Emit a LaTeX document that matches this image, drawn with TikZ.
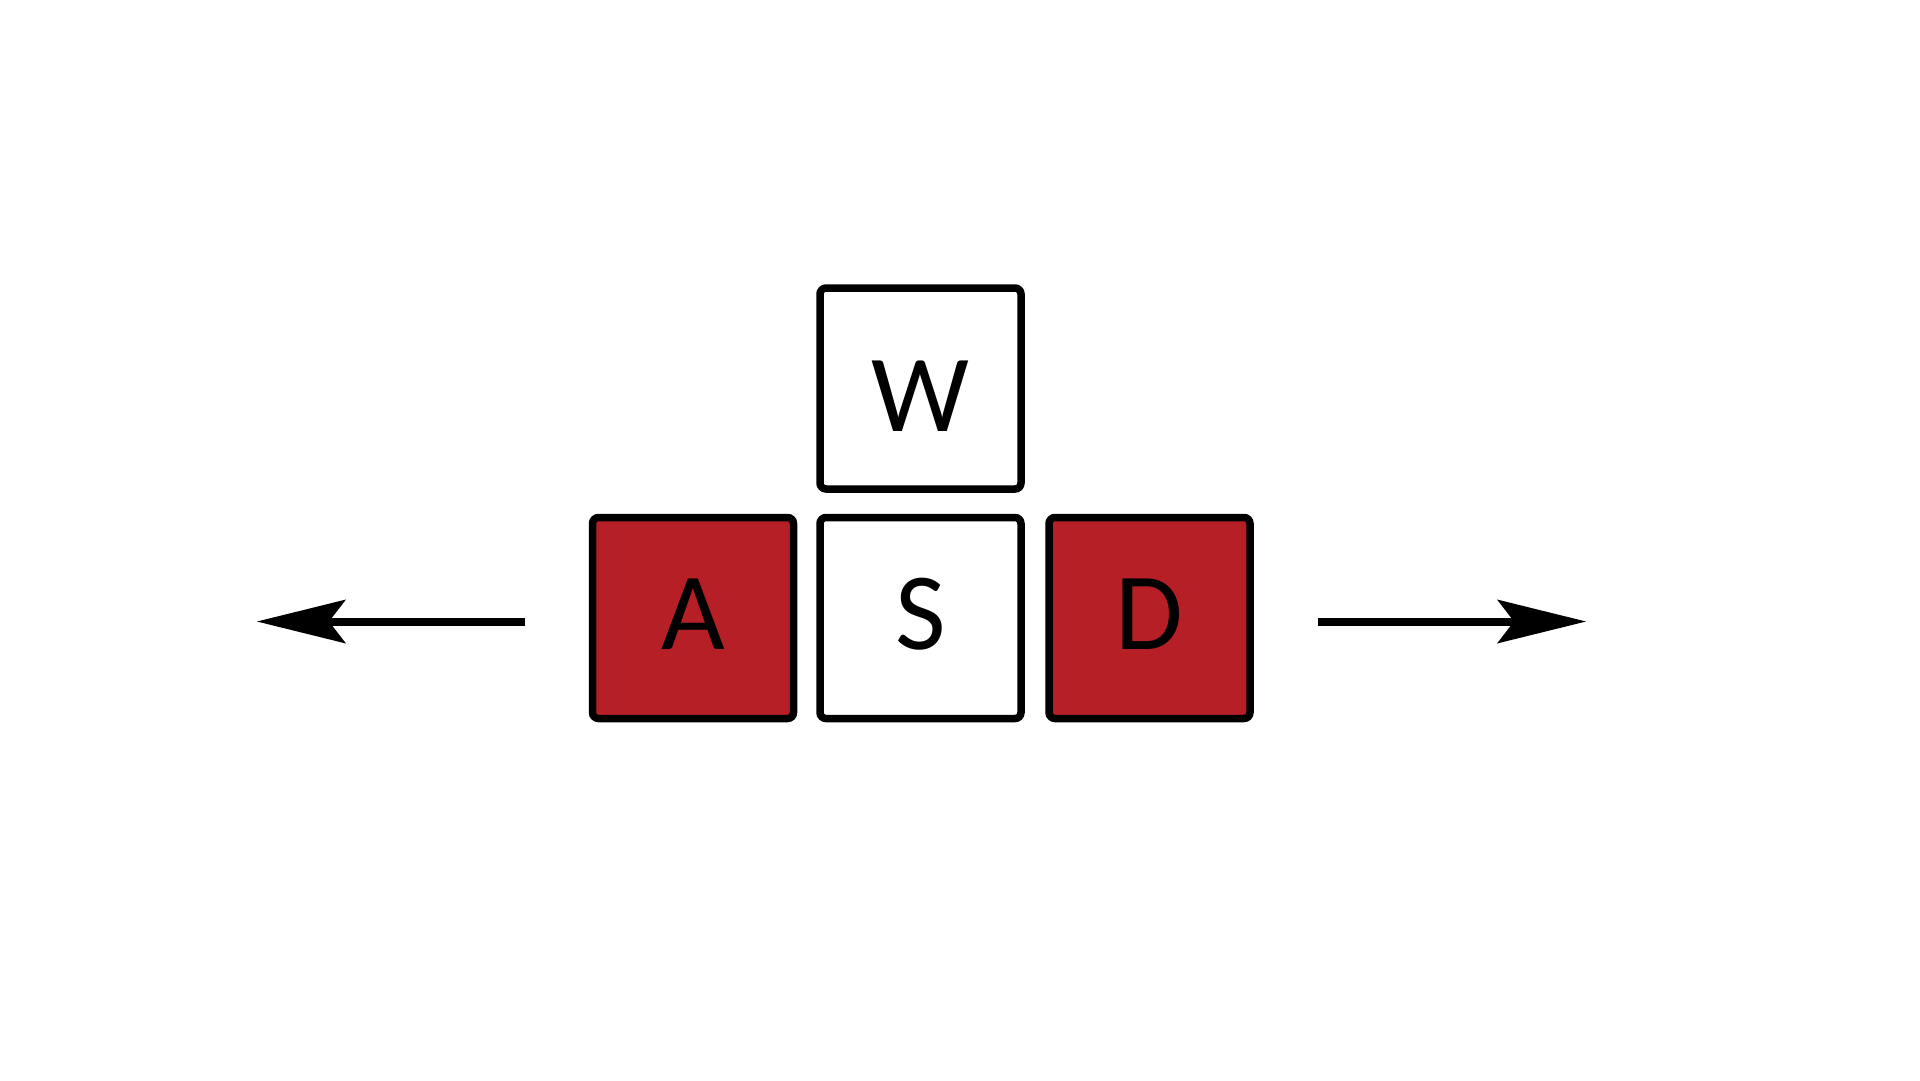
\documentclass[tikz,border=0pt]{standalone}
\usepackage{fontspec}
\setmainfont{Carlito}
\usetikzlibrary{arrows.meta}
\definecolor{keyred}{RGB}{183,31,38}
\tikzset{
  keybox/.style={draw=black, line width=7.5pt, rounded corners=6pt, inner sep=0pt,
    minimum width=201pt, minimum height=201pt},
  keyletter/.style={inner sep=0pt, text depth=0pt, font=\fontsize{110}{110}\selectfont},
  movearrow/.style={line width=8pt, -{Stealth[length=89pt, width=44pt, inset=17pt, line width=0pt]}}
}
\begin{document}
\begin{tikzpicture}[x=1pt, y=-1pt]
\useasboundingbox (0,0) rectangle (1920,1080);
\node[keybox, fill=white] (W) at (920.5,388.5) {};
\node[keybox, fill=keyred] (A) at (693,618) {};
\node[keybox, fill=white] (S) at (920.5,618) {};
\node[keybox, fill=keyred] (D) at (1149.5,618) {};
\node[keyletter] (Wt) at ([yshift=-8pt]W.center) {W};
\node[keyletter] (At) at ([yshift=4pt]A.center) {A};
\node[keyletter] (St) at ([yshift=4pt]S.center) {S};
\node[keyletter] (Dt) at ([yshift=4pt]D.center) {D};
\coordinate (Ls) at (525,621.5);
\coordinate (Le) at (257,621.5);
\coordinate (Rs) at (1318,621.5);
\coordinate (Re) at (1586,621.5);
\draw[movearrow] (Ls) -- (Le);
\draw[movearrow] (Rs) -- (Re);
\end{tikzpicture}
\end{document}
